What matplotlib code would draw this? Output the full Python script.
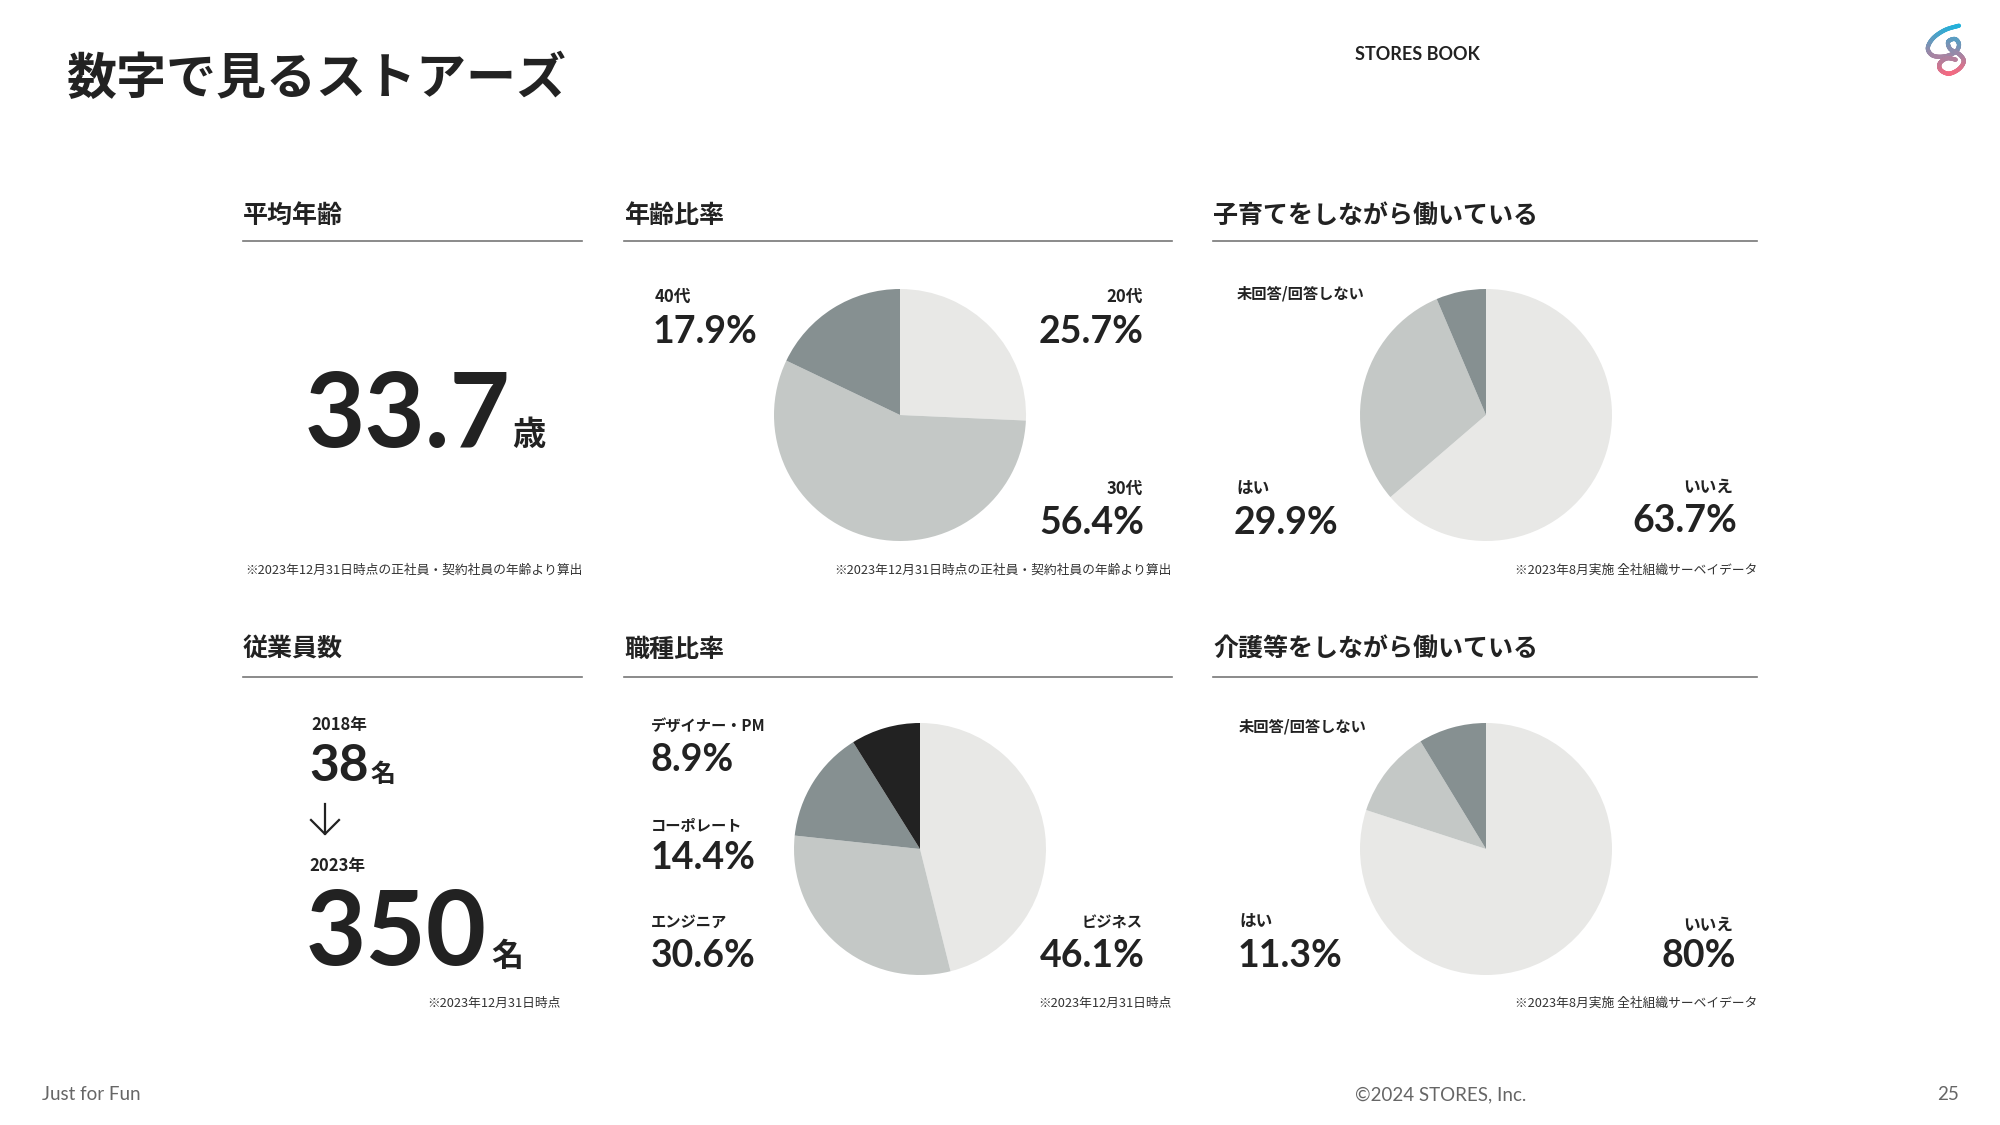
import numpy as np
import matplotlib
matplotlib.use("Agg")
import matplotlib.pyplot as plt
from matplotlib.lines import Line2D
from matplotlib.collections import LineCollection

# ---------------- data ----------------
avg_age = 33.7
employees_years = ["2018年", "2023年"]
employees_counts = [38, 350]

age_labels = ["20代", "30代", "40代"]
age_values = [25.7, 56.4, 17.9]

childcare_labels = ["いいえ", "はい", "未回答/回答しない"]
childcare_values = [63.7, 29.9, 6.4]

job_labels = ["ビジネス", "エンジニア", "コーポレート", "デザイナー・PM"]
job_values = [46.1, 30.6, 14.4, 8.9]

nursing_labels = ["いいえ", "はい", "未回答/回答しない"]
nursing_values = [80.0, 11.3, 8.7]

# ---------------- style ----------------
W, H = 2000, 1125
TXT = "#222222"
GREY = "#666666"
NOTE = "#333333"
LIGHT, MID, DARK, BLACK = "#e8e8e6", "#c4c8c6", "#869091", "#222222"
JP = ["Noto Sans CJK JP", "DejaVu Sans"]
NUM = ["Lato", "Noto Sans CJK JP", "DejaVu Sans"]

fig = plt.figure(figsize=(20, 11.25), dpi=100)
fig.patch.set_facecolor("white")


def fx(x):
    return x / W


def fy(y):
    return 1 - y / H


def T(x, y, s, size, weight="bold", ha="left", va="baseline", family=JP, color=TXT):
    return fig.text(fx(x), fy(y), s, fontsize=size, fontweight=weight, ha=ha, va=va,
                    family=family, color=color)


def hline(x0, x1, y, color="#777777", lw=1.2):
    fig.add_artist(Line2D([fx(x0), fx(x1)], [fy(y), fy(y)], transform=fig.transFigure,
                          color=color, lw=lw))


def pct(v):
    return f"{v:g}%"


def pie(cx, cy, r, vals, cols):
    ax = fig.add_axes([fx(cx - r), fy(cy + r), 2 * r / W, 2 * r / H])
    ax.pie(vals, colors=cols, startangle=90, counterclock=False,
           wedgeprops=dict(linewidth=0))
    ax.set_xlim(-1, 1)
    ax.set_ylim(-1, 1)
    ax.set_aspect("equal")
    ax.axis("off")


def right_edge_px(t):
    r = fig.canvas.get_renderer()
    return t.get_window_extent(renderer=r).x1


# ---------------- header / footer ----------------
T(67, 79, "数字で見るストアーズ", 36, va="center")
T(1355, 54, "STORES BOOK", 13, va="center", family=NUM)
T(42, 1095, "Just for Fun", 13.5, weight="normal", va="center", family=NUM, color=GREY)
T(1355, 1095, "©2024 STORES, Inc.", 13.5, weight="normal", va="center", family=NUM, color=GREY)
T(1959, 1095, "25", 13.5, weight="normal", ha="right", va="center", family=NUM, color=GREY)

# logo swirl (decorative)
pts = np.array([(160, 32), (125, 45), (95, 70), (82, 100), (95, 122), (125, 124),
                (152, 110), (160, 88), (150, 72), (133, 80), (138, 102), (160, 117),
                (172, 138), (160, 162), (135, 176), (114, 165), (112, 145), (130, 130),
                (152, 134)], dtype=float)
pts = pts / 3.0 * np.array([1.2, 1.0]) + np.array([1895, 15])


def catmull(p, n=20):
    out = []
    p = np.vstack([p[0], p, p[-1]])
    for i in range(1, len(p) - 2):
        p0, p1, p2, p3 = p[i - 1], p[i], p[i + 1], p[i + 2]
        for t in np.linspace(0, 1, n, endpoint=False):
            t2, t3 = t * t, t * t * t
            out.append(0.5 * ((2 * p1) + (-p0 + p2) * t + (2 * p0 - 5 * p1 + 4 * p2 - p3) * t2
                              + (-p0 + 3 * p1 - 3 * p2 + p3) * t3))
    out.append(p[-2])
    return np.array(out)


curve = catmull(pts)
xy = np.column_stack([curve[:, 0] / W, 1 - curve[:, 1] / H])
segs = np.stack([xy[:-1], xy[1:]], axis=1)
c_top = np.array(matplotlib.colors.to_rgb("#1fb2dc"))
c_bot = np.array(matplotlib.colors.to_rgb("#f46a82"))
ys = curve[:-1, 1]
tt = ((ys - ys.min()) / (ys.max() - ys.min()))[:, None]
cols = c_top * (1 - tt) + c_bot * tt
fig.add_artist(LineCollection(segs, colors=cols, linewidths=3.0, capstyle="round",
                              transform=fig.transFigure))

# ---------------- section headers ----------------
sections = [
    ("平均年齢", 243, 582, 216, 241),
    ("年齢比率", 624, 1172, 216, 241),
    ("子育てをしながら働いている", 1213, 1757, 216, 241),
    ("従業員数", 243, 582, 650, 677),
    ("職種比率", 624, 1172, 650, 677),
    ("介護等をしながら働いている", 1213, 1757, 650, 677),
]
for name, x0, x1, ty, ly in sections:
    T(x0, ty, name, 18, va="center")
    hline(x0, x1, ly)

# ---------------- 平均年齢 ----------------
t_age = T(305, 447, f"{avg_age}", 75, family=NUM)
T(max(506, right_edge_px(t_age) + 1), 445, "歳", 24)
T(583, 570, "※2023年12月31日時点の正社員・契約社員の年齢より算出", 9.2, weight="normal",
  ha="right", va="center", color=NOTE)

# ---------------- 年齢比率 ----------------
pie(900, 415, 126, age_values, [LIGHT, MID, DARK])
T(655, 302, age_labels[2], 12)
T(653, 343, pct(age_values[2]), 27, family=NUM)
T(1143, 302, age_labels[0], 12, ha="right")
T(1144, 343, pct(age_values[0]), 27, ha="right", family=NUM)
T(1143, 494, age_labels[1], 12, ha="right")
T(1144, 534, pct(age_values[1]), 27, ha="right", family=NUM)
T(1172, 570, "※2023年12月31日時点の正社員・契約社員の年齢より算出", 9.2, weight="normal",
  ha="right", va="center", color=NOTE)

# ---------------- 子育て ----------------
pie(1486, 415, 126, childcare_values, [LIGHT, MID, DARK])
T(1237, 298, childcare_labels[2], 11)
T(1236, 494, childcare_labels[1], 12)
T(1234, 534, pct(childcare_values[1]), 27, family=NUM)
T(1733, 492, childcare_labels[0], 12, ha="right")
T(1737, 532, pct(childcare_values[0]), 27, ha="right", family=NUM)
T(1757, 570, "※2023年8月実施 全社組織サーベイデータ", 9.2, weight="normal",
  ha="right", va="center", color=NOTE)

# ---------------- 従業員数 ----------------
T(311, 730, employees_years[0], 12)
T(309, 781, f"{employees_counts[0]}", 37, family=NUM)
T(371, 782, "名", 18)
ax_x, a_top, a_bot, a_w = 325, 804, 834, 14
fig.add_artist(Line2D([fx(ax_x), fx(ax_x)], [fy(a_top), fy(a_bot)], transform=fig.transFigure,
                      color=TXT, lw=1.6))
fig.add_artist(Line2D([fx(ax_x - a_w), fx(ax_x), fx(ax_x + a_w)],
                      [fy(a_bot - a_w), fy(a_bot), fy(a_bot - a_w)], transform=fig.transFigure,
                      color=TXT, lw=1.6))
T(309, 871, employees_years[1], 12)
T(306, 965, f"{employees_counts[1]}", 75, family=NUM)
T(491, 966, "名", 23)
T(561, 1003, "※2023年12月31日時点", 9.2, weight="normal", ha="right", va="center",
  color=NOTE)

# ---------------- 職種比率 ----------------
pie(920, 849, 126, job_values, [LIGHT, MID, DARK, BLACK])
T(651, 731, job_labels[3], 11)
T(651, 771, pct(job_values[3]), 27, family=NUM)
T(651, 830, job_labels[2], 11)
T(651, 869, pct(job_values[2]), 27, family=NUM)
T(651, 927, job_labels[1], 11)
T(651, 967, pct(job_values[1]), 27, family=NUM)
T(1143, 927, job_labels[0], 11, ha="right")
T(1145, 967, pct(job_values[0]), 27, ha="right", family=NUM)
T(1172, 1003, "※2023年12月31日時点", 9.2, weight="normal", ha="right", va="center",
  color=NOTE)

# ---------------- 介護 ----------------
pie(1486, 849, 126, nursing_values, [LIGHT, MID, DARK])
T(1239, 731, nursing_labels[2], 11)
T(1239, 927, nursing_labels[1], 12)
T(1238, 967, pct(nursing_values[1]), 27, family=NUM)
T(1733, 930, nursing_labels[0], 12, ha="right")
T(1736, 967, pct(nursing_values[0]), 27, ha="right", family=NUM)
T(1757, 1003, "※2023年8月実施 全社組織サーベイデータ", 9.2, weight="normal",
  ha="right", va="center", color=NOTE)

fig.savefig("out.png", dpi=100, facecolor="white")
